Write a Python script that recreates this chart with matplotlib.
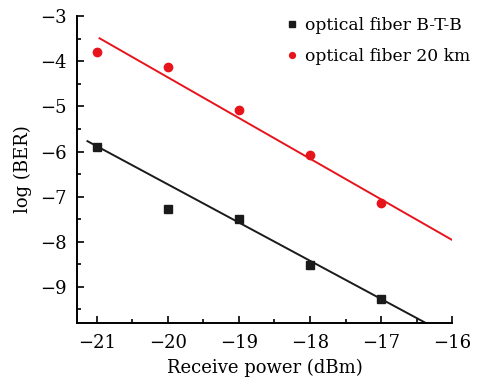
import matplotlib
matplotlib.use('Agg')
from matplotlib import pyplot as plt
from matplotlib.ticker import MultipleLocator

power = [-21, -20, -19, -18, -17]
ber_btb = [-5.9, -7.27, -7.49, -8.51, -9.26]
ber_20km = [-3.8, -4.13, -5.07, -6.07, -7.14]

# fitted lines, end points
fit_btb_x = [-21.13, -16.37]
fit_btb_y = [-5.77, -9.8]
fit_20km_x = [-20.96, -16.0]
fit_20km_y = [-3.49, -7.96]

plt.rcParams['font.family'] = 'DejaVu Serif'
plt.rcParams['mathtext.fontset'] = 'dejavuserif'

fig = plt.figure(figsize=(4.8, 3.85), dpi=100)
ax = fig.add_axes([0.160, 0.161, 0.782, 0.797])

ax.plot(fit_btb_x, fit_btb_y, color='#1a1a1a', lw=1.4)
ax.plot(fit_20km_x, fit_20km_y, color='#e8141c', lw=1.4)
ax.plot(power, ber_btb, 's', color='#1a1a1a', ms=6, label='optical fiber B-T-B')
ax.plot(power, ber_20km, 'o', color='#e8141c', ms=6, label='optical fiber 20 km')

ax.set_xlim(-21.28, -16)
ax.set_ylim(-9.8, -3)
ax.xaxis.set_major_locator(MultipleLocator(1))
ax.xaxis.set_minor_locator(MultipleLocator(0.5))
ax.yaxis.set_major_locator(MultipleLocator(1))
ax.yaxis.set_minor_locator(MultipleLocator(0.5))
ax.tick_params(which='both', direction='in', labelsize=13, width=1.2)
ax.tick_params(which='major', length=5)
ax.tick_params(which='minor', length=3)
ax.tick_params(axis='x', which='major', pad=8)
ax.tick_params(axis='y', which='major', pad=7)
ax.spines['top'].set_visible(False)
ax.spines['right'].set_visible(False)
ax.spines['left'].set_linewidth(1.4)
ax.spines['bottom'].set_linewidth(1.4)

ax.set_xlabel('Receive power (dBm)', fontsize=13, labelpad=5)
ax.set_ylabel('log (BER)', fontsize=13, labelpad=6)

leg = ax.legend(loc='center left', frameon=False, fontsize=12.3, handlelength=0.5,
                handletextpad=0.5, borderaxespad=0, borderpad=0, labelspacing=0.85,
                markerscale=0.7, bbox_to_anchor=(288 / 480, 1 - 41 / 385),
                bbox_transform=fig.transFigure)

fig.savefig('out.png', dpi=100)
